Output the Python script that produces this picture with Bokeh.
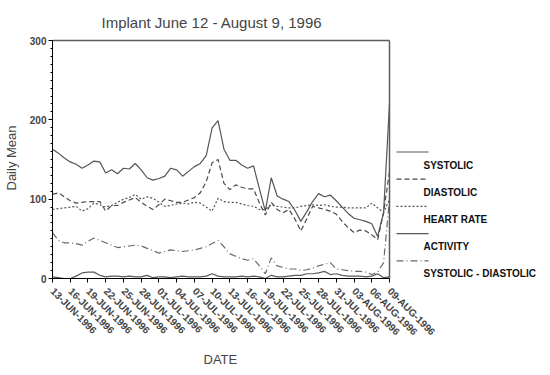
import math
from bokeh.plotting import figure
from bokeh.models import Range1d, FixedTicker, Title
from bokeh.embed import file_html
from bokeh.resources import INLINE
from bokeh.core.properties import value

TITLE = "Implant June 12 - August 9, 1996"
X_LABEL = "DATE"
Y_LABEL = "Daily Mean"

TICK_LABELS = ["13-JUN-1996", "16-JUN-1996", "19-JUN-1996", "22-JUN-1996", "25-JUN-1996",
               "28-JUN-1996", "01-JUL-1996", "04-JUL-1996", "07-JUL-1996", "10-JUL-1996",
               "13-JUL-1996", "16-JUL-1996", "19-JUL-1996", "22-JUL-1996", "25-JUL-1996",
               "28-JUL-1996", "31-JUL-1996", "03-AUG-1996", "06-AUG-1996", "09-AUG-1996"]
Y_TICKS = [0, 100, 200, 300]

SYSTOLIC = [163, 158, 152, 147, 144, 139, 143, 148, 147, 133, 137, 132, 139, 138, 145, 137,
            127, 124, 126, 129, 139, 137, 129, 135, 141, 145, 155, 190, 199, 163, 149, 149,
            143, 139, 142, 113, 85, 127, 104, 100, 97, 86, 72, 84, 97, 107, 103, 105, 98, 90,
            82, 76, 74, 72, 69, 53, 83, 220]
DIASTOLIC = [106, 108, 103, 98, 95, 96, 97, 97, 97, 85, 92, 92, 96, 99, 102, 96, 91, 87, 93,
             100, 98, 96, 96, 99, 102, 108, 122, 146, 150, 120, 112, 118, 115, 113, 113, 95, 80,
             96, 87, 83, 87, 75, 60, 75, 91, 89, 87, 85, 81, 72, 64, 58, 61, 60, 55, 49, 83, 135]
HEART_RATE = [87, 88, 89, 90, 91, 85, 88, 95, 93, 90, 92, 96, 100, 102, 106, 100, 103, 101, 96,
              91, 92, 94, 95, 94, 96, 95, 90, 85, 101, 97, 96, 96, 94, 92, 91, 87, 87, 93, 91,
              90, 89, 89, 91, 92, 93, 92, 93, 91, 90, 90, 89, 89, 89, 89, 95, 89, 83, 100]
ACTIVITY = [2, 1, 0, 0, 3, 7, 8, 8, 4, 2, 3, 3, 2, 3, 2, 2, 4, 1, 2, 2, 1, 2, 3, 2, 2, 2, 3, 6,
            3, 2, 2, 2, 3, 2, 3, 2, 0, 4, 2, 2, 3, 4, 4, 6, 6, 7, 9, 5, 6, 4, 3, 3, 3, 2, 3, 6,
            1, 2]
SYS_MINUS_DIA = [58, 48, 45, 45, 44, 42, 47, 51, 48, 45, 42, 39, 40, 41, 42, 41, 38, 35, 32, 34,
                 36, 35, 34, 35, 36, 38, 40, 44, 48, 40, 31, 28, 25, 23, 25, 16, 6, 26, 16, 14,
                 12, 12, 10, 11, 13, 16, 18, 20, 12, 11, 10, 9, 9, 8, 5, 8, 20, 100]

SERIES_NAMES = ["SYSTOLIC", "DIASTOLIC", "HEART RATE", "ACTIVITY", "SYSTOLIC - DIASTOLIC"]
SERIES = [SYSTOLIC, DIASTOLIC, HEART_RATE, ACTIVITY, SYS_MINUS_DIA]
DASHES = ["solid", "5 3", "2 2", "solid", "7 3 1 3"]
COLORS = ["#555555", "#4a4a4a", "#555555", "#5a5a5a", "#6a6a6a"]
BOX_COLOR = "#5c5c5c"

FONT = "Liberation Sans"

days = list(range(len(SYSTOLIC)))
tick_days = [3 * i for i in range(len(TICK_LABELS))]
x_end = tick_days[-1]
y_top = Y_TICKS[-1]

BOX_W = 337      # width of the boxed plot area in px
BOX_H = 238
FRAME_W = 488    # frame extends to the right to hold the legend
PAD_PX = 3       # a little room above the box so its top edge is not clipped
px_per_day = BOX_W / x_end
px_per_unit = BOX_H / y_top
x_max = FRAME_W / px_per_day
y_max = y_top + PAD_PX / px_per_unit

p = figure(frame_width=FRAME_W, frame_height=BOX_H + PAD_PX,
           x_range=Range1d(0, x_max), y_range=Range1d(0, y_max),
           output_backend="svg", toolbar_location=None,
           min_border_left=46, min_border_right=0, min_border_top=37, min_border_bottom=5,
           title=TITLE)
p.background_fill_color = "white"
p.border_fill_color = "white"
p.outline_line_color = None
p.grid.visible = False

p.title.text_font = FONT
p.title.text_font_size = "15px"
p.title.text_font_style = "normal"
p.title.align = "left"
p.title.offset = 49
p.title.standoff = 14

# x-axis title placed under the boxed area (not the whole frame)
x_title = Title(text=X_LABEL, align="left", offset=151, text_font=FONT,
                text_font_size="13px", text_font_style="normal", standoff=11)
p.add_layout(x_title, "below")

xa = p.xaxis[0]
xa.ticker = FixedTicker(ticks=tick_days, minor_ticks=[])
xa.bounds = (0, x_end)
xa.major_label_overrides = {d: lab for d, lab in zip(tick_days, TICK_LABELS)}
xa.major_label_orientation = -math.pi / 4
xa.major_label_text_font = FONT
xa.major_label_text_font_size = "10px"
xa.major_label_text_font_style = "bold"
xa.major_label_standoff = 7
xa.major_tick_in = 0
xa.major_tick_out = 4
xa.axis_line_color = "black"

ya = p.yaxis[0]
ya.ticker = FixedTicker(ticks=Y_TICKS, minor_ticks=list(range(0, y_top + 1, 10)))
ya.bounds = (0, y_top)
ya.major_label_text_font = FONT
ya.major_label_text_font_size = "10px"
ya.major_label_text_font_style = "bold"
ya.major_label_standoff = 2
ya.major_tick_in = 0
ya.major_tick_out = 4
ya.minor_tick_in = 0
ya.minor_tick_out = 2
ya.axis_label = Y_LABEL
ya.axis_label_text_font = FONT
ya.axis_label_text_font_size = "13px"
ya.axis_label_text_font_style = "normal"
ya.axis_label_standoff = 8
ya.axis_line_color = "black"

for vals, dash, col in zip(SERIES, DASHES, COLORS):
    p.line(days, vals, line_color=col, line_width=1.2, line_dash=dash)

# top and right edges of the box around the data area
p.line([0, x_end / 2, x_end], [y_top, y_top, y_top], line_color=BOX_COLOR, line_width=1.5)
p.line([x_end, x_end, x_end], [0, y_top / 2, y_top], line_color=BOX_COLOR, line_width=1.5)

# legend to the right of the box: line sample above its label
leg_x0 = x_end + 7 / px_per_day
leg_x1 = x_end + 39 / px_per_day
txt_x = x_end + 34 / px_per_day
top_y = 126.5 / px_per_unit
step = 27.2 / px_per_unit
txt_off = 13 / px_per_unit
for i, (name, dash, col) in enumerate(zip(SERIES_NAMES, DASHES, COLORS)):
    yy = top_y - i * step
    p.line([leg_x0, leg_x1], [yy, yy], line_color=col, line_width=1.2, line_dash=dash)
    p.text([txt_x], [yy - txt_off], text=[name], text_font=value(FONT),
           text_font_size="10px", text_font_style="bold",
           text_baseline="middle", text_align="left", text_color="#111111")

open("out.html", "w").write(file_html(p, INLINE))
